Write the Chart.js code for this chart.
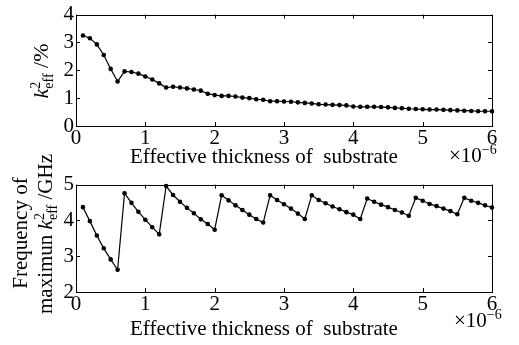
<!DOCTYPE html>
<html>
<head>
<meta charset="utf-8">
<script src="https://cdn.jsdelivr.net/npm/chart.js@4"></script>
<style>
  body { margin: 0; background: #fff; }
  #wrap { position: relative; width: 519px; height: 345px; overflow: hidden; font-family: "Liberation Serif", "Times New Roman", serif; color: #000; }
  canvas { position: absolute; left: 0; }
  .lbl { position: absolute; white-space: nowrap; font-size: 21px; line-height: 21px; }
  .rot { transform: translate(-50%, -50%) rotate(-90deg); }
  .lbl sup, .lbl sub { font-size: 14px; line-height: 0; }
  .lbl sup.st { margin-right: -7px; }
</style>
</head>
<body>
<div id="wrap">
  <canvas id="kChart" width="519" height="170" style="top:0"></canvas>
  <canvas id="fChart" width="519" height="175" style="top:170px"></canvas>

  <div class="lbl rot" style="left:40px; top:71px; font-size:22px"><i>k</i><sup class="st">2</sup><sub>eff</sub> /%</div>
  <div class="lbl" style="left:130px; top:146px">Effective thickness of&nbsp; substrate</div>
  <div class="lbl" style="left:449px; top:145px">×10<sup>−6</sup></div>

  <div class="lbl rot" style="left:20px; top:233px">Frequency of</div>
  <div class="lbl rot" style="left:45px; top:234px">maximun <i>k</i><sup class="st">2</sup><sub>eff</sub> /GHz</div>
  <div class="lbl" style="left:130px; top:318px">Effective thickness of&nbsp; substrate</div>
  <div class="lbl" style="left:454px; top:310px">×10<sup>−6</sup></div>
</div>
<script>
// effective substrate thickness (x 1e-6)
const thickness = [
  0.1, 0.2, 0.3, 0.4, 0.5, 0.6, 0.7, 0.8, 0.9, 1.0,
  1.1, 1.2, 1.3, 1.4, 1.5, 1.6, 1.7, 1.8, 1.9, 2.0,
  2.1, 2.2, 2.3, 2.4, 2.5, 2.6, 2.7, 2.8, 2.9, 3.0,
  3.1, 3.2, 3.3, 3.4, 3.5, 3.6, 3.7, 3.8, 3.9, 4.0,
  4.1, 4.2, 4.3, 4.4, 4.5, 4.6, 4.7, 4.8, 4.9, 5.0,
  5.1, 5.2, 5.3, 5.4, 5.5, 5.6, 5.7, 5.8, 5.9, 6.0
];

// k2_eff in %
const k2eff = [
  3.25, 3.15, 2.93, 2.55, 2.05, 1.60, 1.96, 1.94, 1.88, 1.78,
  1.67, 1.53, 1.38, 1.41, 1.38, 1.35, 1.31, 1.27, 1.16, 1.11,
  1.08, 1.08, 1.06, 1.02, 1.00, 0.96, 0.94, 0.89, 0.89, 0.88,
  0.87, 0.85, 0.83, 0.81, 0.78, 0.77, 0.76, 0.75, 0.74, 0.70,
  0.69, 0.69, 0.69, 0.68, 0.67, 0.65, 0.64, 0.62, 0.61, 0.60,
  0.59, 0.59, 0.58, 0.57, 0.56, 0.55, 0.54, 0.53, 0.53, 0.53
];

// frequency of maximum k2_eff in GHz
const freqMax = [
  4.37, 3.98, 3.58, 3.22, 2.91, 2.62, 4.76, 4.49, 4.24, 4.02,
  3.81, 3.61, 4.96, 4.71, 4.52, 4.35, 4.20, 4.03, 3.90, 3.74,
  4.70, 4.56, 4.42, 4.29, 4.16, 4.04, 3.94, 4.70, 4.57, 4.45,
  4.33, 4.19, 4.04, 4.70, 4.57, 4.48, 4.39, 4.31, 4.23, 4.16,
  4.04, 4.61, 4.52, 4.44, 4.37, 4.29, 4.22, 4.13, 4.63, 4.55,
  4.46, 4.40, 4.33, 4.26, 4.17, 4.63, 4.55, 4.49, 4.42, 4.36
];

const xTicks = [0, 1, 2, 3, 4, 5, 6];

// box around the plot area with inward ticks on all four sides
const frameTicks = {
  id: 'frameTicks',
  afterDraw(chart) {
    const { ctx, chartArea: a, scales: { x, y } } = chart;
    const len = 4;
    ctx.save();
    ctx.strokeStyle = '#000';
    ctx.lineWidth = 1;
    ctx.strokeRect(Math.round(a.left) + 0.5, Math.round(a.top) + 0.5,
                   Math.round(a.right - a.left), Math.round(a.bottom - a.top));
    ctx.beginPath();
    x.ticks.forEach(t => {
      const px = Math.round(x.getPixelForValue(t.value)) + 0.5;
      ctx.moveTo(px, a.bottom); ctx.lineTo(px, a.bottom - len);
      ctx.moveTo(px, a.top); ctx.lineTo(px, a.top + len);
    });
    y.ticks.forEach(t => {
      const py = Math.round(y.getPixelForValue(t.value)) + 0.5;
      ctx.moveTo(a.left, py); ctx.lineTo(a.left + len, py);
      ctx.moveTo(a.right, py); ctx.lineTo(a.right - len, py);
    });
    ctx.stroke();
    ctx.restore();
  }
};

function makeChart(id, values, yMin, yMax, padTop, xHeight) {
  const tickFont = { family: '"Liberation Serif", "Times New Roman", serif', size: 21 };
  return new Chart(document.getElementById(id), {
    type: 'line',
    data: {
      datasets: [{
        data: thickness.map((t, i) => ({ x: t, y: values[i] })),
        borderColor: '#000',
        backgroundColor: '#000',
        borderWidth: 1.2,
        pointRadius: 1.7,
        pointHoverRadius: 1.7,
        tension: 0,
        clip: false
      }]
    },
    options: {
      responsive: false,
      animation: false,
      devicePixelRatio: 1,
      layout: { padding: { top: padTop, right: 27, left: 0, bottom: 0 } },
      plugins: { legend: { display: false }, tooltip: { enabled: false } },
      scales: {
        x: {
          type: 'linear',
          min: 0, max: 6,
          afterBuildTicks: s => { s.ticks = xTicks.map(v => ({ value: v })); },
          afterFit: s => { s.height = xHeight; },
          grid: { display: false, drawTicks: false },
          border: { display: false },
          ticks: { color: '#000', font: tickFont, padding: 0, maxRotation: 0, autoSkip: false }
        },
        y: {
          min: yMin, max: yMax,
          afterFit: s => { s.width = 76; },
          grid: { display: false, drawTicks: false },
          border: { display: false },
          ticks: { color: '#000', font: tickFont, padding: 2, stepSize: 1, autoSkip: false }
        }
      }
    },
    plugins: [frameTicks]
  });
}

makeChart('kChart', k2eff, 0, 4, 13, 44);
makeChart('fChart', freqMax, 2, 5, 6, 53);
</script>
</body>
</html>
